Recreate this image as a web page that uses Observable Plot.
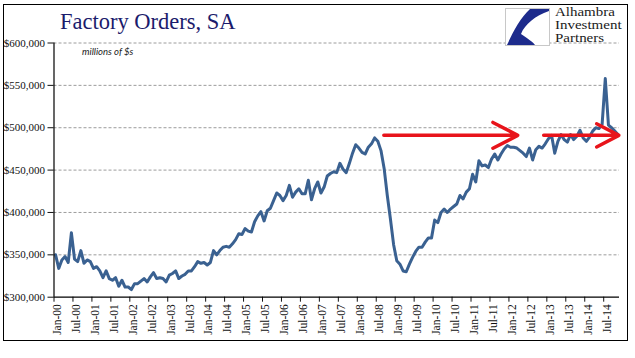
<!DOCTYPE html>
<html>
<head>
<meta charset="utf-8">
<script src="https://cdn.jsdelivr.net/npm/d3@7"></script>
<script src="https://cdn.jsdelivr.net/npm/@observablehq/plot@0.6"></script>
<style>
  html, body { margin: 0; padding: 0; background: #fff; }
  #wrap { position: relative; width: 635px; height: 358px; overflow: hidden; }
  #frame { position: absolute; left: 3px; top: 4px; width: 623px; height: 335px; border: 1.5px solid #000; pointer-events: none; }
  #title { position: absolute; left: 60px; top: 9px; font-family: "Liberation Serif", serif; font-size: 22.5px; color: #1b1b6c; white-space: nowrap; }
  #units { position: absolute; left: 82px; top: 46px; font-family: Lato, sans-serif; font-style: italic; font-size: 9.5px; color: #222; white-space: nowrap; }
  #logo { position: absolute; left: 505px; top: 8px; }
  .lt { position: absolute; left: 555px; font-family: "Liberation Serif", serif; font-size: 14px; line-height: 14px; color: #1a1a1a; white-space: nowrap; transform: scale(1.07, 0.84); transform-origin: 0 0; }
  svg { display: block; }
</style>
</head>
<body>
<div id="wrap">
  <div id="chart"></div>
  <div id="title">Factory Orders, SA</div>
  <div id="units">millions of $s</div>
  <svg id="logo" width="45" height="38" viewBox="0 0 45 38">
    <rect x="0.5" y="0.5" width="44" height="37" fill="#fff" stroke="#c8c8c8"/>
    <path d="M25,1 L44,1 L44,3 C30,8 20,16 16,26 C22,30 28,34 30,37 L2,37 C8,24 15,10 25,1 Z" fill="#1d2b8c"/>
  </svg>
  <div class="lt" style="top:7px">Alhambra</div>
  <div class="lt" style="top:20px">Investment</div>
  <div class="lt" style="top:33px">Partners</div>
  <div id="frame"></div>
</div>
<script>
// Factory orders, seasonally adjusted, $ millions, monthly from Jan-2000
const startYear = 2000;
const v2000 = [350000, 334000, 344000, 348000, 341000, 376000, 345000, 342000, 355000, 340000, 344000, 342000];
const v2001 = [334000, 336000, 331000, 323000, 331000, 322000, 320000, 323000, 313000, 320000, 312000, 312000];
const v2002 = [309000, 316000, 316000, 319000, 322000, 318000, 324000, 329000, 322000, 323000, 322000, 318000];
const v2003 = [326000, 328000, 331000, 322000, 325000, 327000, 331000, 331000, 336000, 342000, 340000, 341000];
const v2004 = [338000, 341000, 355000, 350000, 355000, 359000, 360000, 359000, 363000, 368000, 375000, 374000];
const v2005 = [381000, 378000, 377000, 389000, 396000, 401000, 390000, 402000, 405000, 414000, 423000, 420000];
const v2006 = [414000, 420000, 432000, 418000, 424000, 428000, 422000, 422000, 438000, 415000, 428000, 436000];
const v2007 = [423000, 430000, 443000, 446000, 448000, 447000, 458000, 451000, 447000, 458000, 470000, 480000];
const v2008 = [476000, 471000, 469000, 477000, 481000, 488000, 484000, 473000, 452000, 420000, 392000, 362000];
const v2009 = [343000, 339000, 331000, 330000, 339000, 347000, 354000, 359000, 359000, 365000, 370000, 370000];
const v2010 = [391000, 388000, 400000, 404000, 400000, 404000, 407000, 410000, 420000, 416000, 424000, 428000];
const v2011 = [445000, 436000, 461000, 455000, 456000, 453000, 463000, 469000, 462000, 469000, 475000, 479000];
const v2012 = [477000, 477000, 476000, 473000, 470000, 466000, 476000, 462000, 474000, 478000, 476000, 481000];
const v2013 = [487000, 491000, 470000, 484000, 492000, 486000, 483000, 492000, 486000, 490000, 497000, 488000];
const v2014 = [484000, 489000, 496000, 500000, 499000, 504000, 558000, 503000, 500000, 496000, 492000];

const values = [].concat(v2000, v2001, v2002, v2003, v2004, v2005, v2006, v2007, v2008, v2009, v2010, v2011, v2012, v2013, v2014);
const series = values.map((v, i) => ({month: i, value: v}));

const xTickLabels = ["Jan-00","Jul-00","Jan-01","Jul-01","Jan-02","Jul-02","Jan-03","Jul-03","Jan-04","Jul-04",
  "Jan-05","Jul-05","Jan-06","Jul-06","Jan-07","Jul-07","Jan-08","Jul-08","Jan-09","Jul-09",
  "Jan-10","Jul-10","Jan-11","Jul-11","Jan-12","Jul-12","Jan-13","Jul-13","Jan-14","Jul-14"];
const xTickMonths = xTickLabels.map((d, k) => k * 6);

const yTicks = [300000, 350000, 400000, 450000, 500000, 550000, 600000];

// flat-level arrows (start month, end month, level)
const arrowStart = [103.9, 154.5];
const arrowEnd = [146.3, 178.3];
const arrowLevel = [491000, 491000];
const arrows = arrowStart.map((s, k) => ({x1: s, x2: arrowEnd[k], y: arrowLevel[k]}));

const chart = Plot.plot({
  width: 635,
  height: 358,
  marginLeft: 53.5,
  marginRight: 16,
  marginTop: 42.5,
  marginBottom: 61.3,
  style: {fontFamily: "Liberation Serif, serif", fontSize: "11px", color: "#111", background: "transparent"},
  x: {type: "linear", domain: [-0.5, values.length - 0.5]},
  y: {domain: [300000, 600000]},
  marks: [
    Plot.ruleY(yTicks.slice(1), {stroke: "#9c9c9c", strokeWidth: 1, strokeDasharray: "3,2"}),
    Plot.axisY({ticks: yTicks, tickSize: 6, tickPadding: 3, tickFormat: d3.format("$,"), fontSize: 11, label: null}),
    Plot.axisX({ticks: xTickMonths.map(m => m - 0.5), tickSize: 5, tickFormat: () => "", label: null}),
    Plot.axisX({ticks: xTickMonths.map(m => m + 0.5), tickSize: 0, tickPadding: 7, tickRotate: -90,
      tickFormat: d => xTickLabels[Math.round((d - 0.5) / 6)], fontSize: 11.5, label: null}),
    Plot.lineY(series, {x: "month", y: "value", stroke: "#3a6191", strokeWidth: 3, strokeLinejoin: "round"}),
    Plot.arrow(arrows, {x1: "x1", x2: "x2", y1: "y", y2: "y", stroke: "#e8141b", strokeWidth: 3.5, headLength: 12, headAngle: 55}),
    Plot.ruleX([-0.5], {stroke: "#000", strokeWidth: 1.2}),
    Plot.ruleY([300000], {stroke: "#000", strokeWidth: 1.2})
  ]
});
document.getElementById("chart").appendChild(chart);
</script>
</body>
</html>
